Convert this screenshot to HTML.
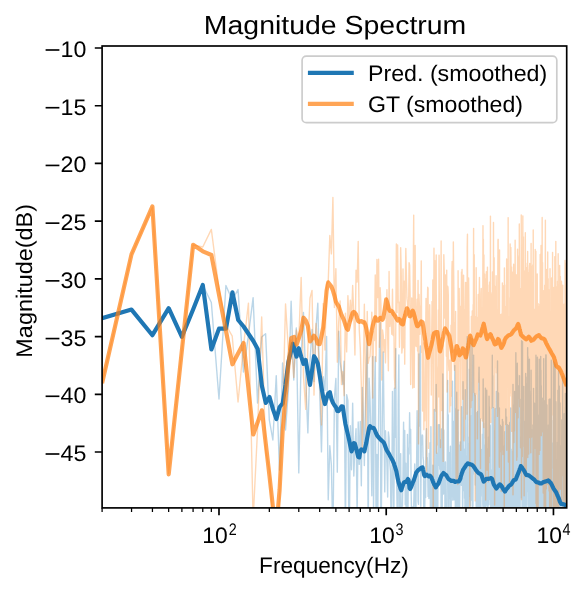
<!DOCTYPE html>
<html><head><meta charset="utf-8"><style>
html,body{margin:0;padding:0;background:#fff;width:587px;height:591px;overflow:hidden}
svg{display:block}
text{text-rendering:geometricPrecision}
text{font-family:"Liberation Sans",sans-serif;fill:#000}
</style></head><body>
<svg width="587" height="591" viewBox="0 0 587 591">
<rect width="587" height="591" fill="#fff"/>
<defs><clipPath id="ax"><rect x="102.1" y="46.0" width="464.6" height="461.9"/></clipPath></defs>
<g clip-path="url(#ax)" fill="none" stroke-linejoin="round">
<polyline points="102.10,318.20 131.55,309.66 152.44,335.13 168.65,308.29 181.89,336.78 193.08,309.54 202.78,285.04 211.34,302.50 218.99,399.00 225.91,285.50 232.23,300.00 238.04,289.60 243.43,372.00 248.44,335.00 253.12,297.70 257.53,403.00 261.68,337.00 265.60,333.70 269.33,420.00 272.87,440.00 276.25,375.60 279.48,470.00 282.57,363.00 285.54,430.00 288.38,390.00 291.13,301.20 293.77,380.00 296.32,328.00 298.78,472.92 301.16,356.18 303.46,312.47 305.70,378.93 307.87,432.91 309.97,361.85 312.02,329.45 314.01,381.57 315.95,328.76 317.83,303.16 319.67,390.83 321.46,451.90 323.21,376.63 324.92,390.38 326.59,336.44 328.23,499.68 329.82,445.69 331.38,464.97 332.91,542.48 334.41,398.25 335.88,378.53 337.32,472.16 338.73,331.26 340.11,362.04 341.47,371.54 342.80,384.46 344.11,361.30 345.39,529.15 346.66,394.65 347.90,400.61 349.12,560.00 350.32,425.67 351.50,469.71 352.66,403.09 353.81,475.99 354.93,445.53 356.04,428.58 357.13,516.81 358.21,422.04 359.27,464.36 360.31,421.42 361.34,485.72 362.36,387.38 363.36,416.81 364.35,465.55 365.33,411.66 366.29,370.58 367.24,335.13 368.17,541.74 369.10,378.15 370.01,400.07 370.91,433.94 371.81,495.77 372.69,356.41 373.56,513.25 374.42,397.69 375.26,356.80 376.10,537.71 376.93,454.56 377.76,520.83 378.57,423.40 379.37,351.02 380.16,322.56 380.95,552.43 381.72,477.28 382.49,401.56 383.25,351.96 384.01,419.98 384.75,491.89 385.49,430.66 386.22,450.55 386.94,463.57 387.66,497.00 388.37,431.85 389.07,437.82 389.76,462.47 390.45,471.39 391.13,534.86 391.81,488.68 392.48,391.47 393.14,472.92 393.80,545.50 394.45,388.23 395.10,437.18 395.73,348.62 396.37,469.17 397.00,501.14 397.62,558.56 398.24,403.42 398.85,354.93 399.46,529.16 400.06,521.45 400.66,453.61 401.25,534.32 401.84,502.88 402.43,506.11 403.00,475.25 403.58,422.18 404.15,483.15 404.71,430.44 405.27,504.78 405.83,463.23 406.38,560.00 406.93,556.16 407.47,434.51 408.01,510.20 408.55,447.95 409.08,453.99 409.61,412.81 410.14,442.75 410.66,429.53 411.17,492.44 411.69,520.24 412.20,520.39 412.70,506.87 413.20,537.06 413.70,507.28 414.20,483.98 414.69,463.91 415.18,493.75 415.67,560.00 416.15,478.82 416.63,461.34 417.10,410.75 417.58,438.99 418.05,501.61 418.51,504.27 418.98,353.95 419.44,425.93 419.90,363.50 420.35,345.92 420.81,506.20 421.26,445.81 421.70,441.22 422.15,434.99 422.59,435.63 423.03,457.18 423.46,460.78 423.90,542.18 424.33,482.40 424.76,510.51 425.18,468.68 425.61,497.51 426.03,440.19 426.45,428.59 426.86,458.01 427.28,457.55 427.69,470.40 428.10,496.41 428.50,483.30 428.91,498.55 429.31,453.24 429.71,474.79 430.11,442.70 430.50,538.44 430.90,426.68 431.29,513.96 431.68,513.48 432.07,489.51 432.45,507.22 432.83,465.22 433.22,509.33 433.60,533.01 433.97,523.48 434.35,409.50 434.72,483.45 435.09,540.70 435.46,487.09 435.83,560.00 436.20,384.46 436.56,557.19 436.92,458.24 437.28,453.57 437.64,550.98 438.00,465.78 438.35,424.65 438.71,454.31 439.06,465.33 439.41,424.71 439.76,469.36 440.10,458.44 440.45,482.92 440.79,439.82 441.13,518.98 441.47,429.04 441.81,497.30 442.15,523.56 442.48,451.36 442.82,373.97 443.15,415.42 443.48,493.98 443.81,429.97 444.14,491.77 444.47,477.08 444.79,466.73 445.11,560.00 445.44,461.91 445.76,521.05 446.08,506.25 446.39,542.65 446.71,545.13 447.03,519.19 447.34,428.51 447.65,380.53 447.96,478.37 448.27,414.64 448.58,490.06 448.89,560.00 449.19,469.66 449.50,452.81 449.80,498.54 450.10,461.53 450.40,446.14 450.70,519.27 451.00,547.81 451.30,490.05 451.59,489.79 451.89,496.54 452.18,423.49 452.48,381.09 452.77,500.13 453.06,440.76 453.34,427.00 453.63,440.35 453.92,421.27 454.20,499.90 454.49,439.43 454.77,365.49 455.05,436.08 455.33,510.88 455.61,446.98 455.89,408.99 456.17,460.35 456.45,507.46 456.72,392.18 457.00,538.74 457.27,451.78 457.54,481.39 457.82,535.56 458.09,409.86 458.36,459.97 458.62,533.72 458.89,444.93 459.16,499.39 459.42,560.00 459.69,510.88 459.95,463.67 460.21,441.97 460.48,468.30 460.74,474.45 461.00,449.13 461.26,485.20 461.51,406.74 461.77,465.30 462.03,456.13 462.28,441.10 462.54,520.35 462.79,503.50 463.04,381.76 463.29,450.01 463.55,482.04 463.80,448.91 464.04,490.49 464.29,451.81 464.54,498.26 464.79,451.22 465.03,539.64 465.28,389.61 465.52,489.75 465.77,538.72 466.01,475.68 466.25,482.12 466.49,455.84 466.73,517.16 466.97,440.99 467.21,336.60 467.45,522.26 467.68,443.38 467.92,477.12 468.15,451.80 468.39,546.72 468.62,516.36 468.86,436.83 469.09,465.28 469.32,369.27 469.55,496.33 469.78,453.86 470.01,337.10 470.24,499.57 470.47,506.09 470.69,466.12 470.92,466.70 471.15,416.06 471.37,457.45 471.60,500.00 471.82,453.00 472.04,338.37 472.27,392.08 472.49,560.00 472.71,472.31 472.93,506.30 473.15,430.15 473.37,474.35 473.59,355.09 473.80,413.17 474.02,415.81 474.24,456.72 474.45,469.63 474.67,448.41 474.88,393.57 475.10,437.76 475.31,485.10 475.52,395.57 475.74,458.35 475.95,473.30 476.16,506.53 476.37,496.40 476.58,499.90 476.79,560.00 477.00,412.39 477.20,438.66 477.41,481.52 477.62,411.52 477.82,446.84 478.03,450.88 478.23,560.00 478.44,483.50 478.64,442.23 478.84,380.24 479.05,367.13 479.25,391.26 479.45,527.38 479.65,560.00 479.85,441.23 480.05,472.76 480.25,419.00 480.45,480.56 480.65,462.26 480.85,544.40 481.04,449.49 481.24,496.23 481.44,455.88 481.63,449.97 481.83,482.29 482.02,458.99 482.21,478.30 482.41,434.25 482.60,449.50 482.79,504.12 482.98,506.39 483.18,379.00 483.37,484.72 483.56,423.17 483.75,457.80 483.94,506.55 484.13,515.08 484.31,473.57 484.50,465.69 484.69,445.04 484.88,539.00 485.06,507.96 485.25,484.88 485.43,388.11 485.62,560.00 485.80,455.16 485.99,505.43 486.17,455.60 486.35,503.22 486.54,459.46 486.72,390.20 486.90,460.06 487.08,455.49 487.26,458.98 487.44,515.14 487.62,449.16 487.80,490.12 487.98,517.96 488.16,482.22 488.34,490.90 488.52,436.88 488.69,482.31 488.87,504.74 489.05,396.22 489.22,423.17 489.40,406.90 489.57,445.07 489.75,485.17 489.92,499.42 490.10,492.93 490.27,425.30 490.44,473.50 490.62,548.38 490.79,481.69 490.96,545.23 491.13,470.23 491.30,535.35 491.47,538.09 491.65,472.85 491.82,483.27 491.98,556.35 492.15,436.53 492.32,355.24 492.49,548.85 492.66,375.79 492.83,512.94 492.99,504.37 493.16,490.18 493.33,549.01 493.49,407.66 493.66,454.57 493.82,518.06 493.99,496.52 494.15,554.10 494.32,500.50 494.48,430.77 494.64,560.00 494.81,505.66 494.97,477.40 495.13,425.73 495.29,408.71 495.46,508.05 495.62,521.47 495.78,461.64 495.94,504.76 496.10,502.65 496.26,426.35 496.42,391.46 496.58,473.48 496.74,497.54 496.89,455.54 497.05,560.00 497.21,489.03 497.37,537.00 497.52,360.90 497.68,446.15 497.84,479.40 497.99,496.38 498.15,560.00 498.30,445.96 498.46,392.90 498.61,520.44 498.77,447.19 498.92,444.78 499.08,557.80 499.23,432.16 499.38,407.83 499.53,472.68 499.69,488.63 499.84,440.16 499.99,556.93 500.14,480.55 500.29,425.23 500.44,543.60 500.60,429.09 500.75,505.83 500.90,560.00 501.04,491.70 501.19,531.84 501.34,468.68 501.49,541.37 501.64,426.78 501.79,521.66 501.94,467.12 502.08,515.26 502.23,502.88 502.38,419.34 502.52,475.84 502.67,506.64 502.82,546.33 502.96,421.74 503.11,446.54 503.25,504.05 503.40,475.07 503.54,536.79 503.69,536.25 503.83,527.68 503.97,469.28 504.12,472.77 504.26,524.60 504.40,447.96 504.55,445.60 504.69,481.26 504.83,431.65 504.97,505.20 505.11,497.11 505.25,464.45 505.40,493.18 505.54,445.64 505.68,549.16 505.82,408.90 505.96,527.12 506.10,498.51 506.23,554.37 506.37,455.98 506.51,416.97 506.65,428.53 506.79,442.11 506.93,560.00 507.06,526.05 507.20,511.16 507.34,532.82 507.48,424.73 507.61,478.74 507.75,490.38 507.89,460.98 508.02,532.90 508.16,530.68 508.29,529.21 508.43,459.57 508.56,468.35 508.70,454.47 508.83,425.38 508.97,550.06 509.10,513.05 509.23,478.43 509.37,549.00 509.50,511.07 509.63,427.75 509.77,422.42 509.90,423.70 510.03,483.13 510.16,495.18 510.29,422.87 510.42,502.16 510.56,465.22 510.69,408.03 510.82,501.28 510.95,512.28 511.08,484.30 511.21,449.12 511.34,455.63 511.47,474.38 511.60,451.17 511.73,557.04 511.86,522.76 511.98,473.57 512.11,525.77 512.24,544.75 512.37,538.47 512.50,525.00 512.62,490.76 512.75,529.64 512.88,468.77 513.00,384.33 513.13,488.95 513.26,408.47 513.38,465.30 513.51,533.56 513.64,493.60 513.76,527.00 513.89,437.25 514.01,534.72 514.14,405.06 514.26,447.93 514.39,560.00 514.51,435.84 514.63,391.39 514.76,517.43 514.88,423.97 515.01,560.00 515.13,466.10 515.25,557.27 515.37,452.63 515.50,560.00 515.62,560.00 515.74,457.07 515.86,352.63 515.98,506.79 516.11,431.05 516.23,472.26 516.35,493.26 516.47,442.49 516.59,382.90 516.71,534.40 516.83,444.51 516.95,456.82 517.07,542.19 517.19,382.91 517.31,363.29 517.43,519.47 517.55,374.86 517.67,471.61 517.79,482.08 517.91,387.45 518.02,460.79 518.14,454.95 518.26,385.70 518.38,398.63 518.50,421.12 518.61,537.03 518.73,544.65 518.85,406.75 518.96,514.22 519.08,462.56 519.20,520.41 519.31,479.00 519.43,529.25 519.55,375.82 519.66,516.64 519.78,474.93 519.89,477.68 520.01,399.08 520.12,533.94 520.24,469.62 520.35,477.44 520.47,436.89 520.58,439.93 520.69,488.29 520.81,452.78 520.92,484.05 521.04,439.87 521.15,471.76 521.26,497.43 521.38,468.57 521.49,446.44 521.60,340.59 521.71,490.38 521.83,450.14 521.94,383.54 522.05,560.00 522.16,548.72 522.27,523.26 522.39,473.79 522.50,341.68 522.61,446.20 522.72,399.19 522.83,479.30 522.94,560.00 523.05,560.00 523.16,410.66 523.27,458.91 523.38,529.67 523.49,405.36 523.60,541.04 523.71,404.65 523.82,386.48 523.93,505.69 524.04,521.67 524.15,421.91 524.25,521.34 524.36,421.16 524.47,526.22 524.58,424.55 524.69,465.88 524.80,491.41 524.90,512.91 525.01,457.97 525.12,559.20 525.23,484.69 525.33,490.36 525.44,433.05 525.55,530.22 525.65,373.57 525.76,486.97 525.87,525.27 525.97,392.85 526.08,377.00 526.18,481.76 526.29,514.36 526.39,472.41 526.50,505.33 526.60,487.98 526.71,383.75 526.81,451.19 526.92,465.54 527.02,454.08 527.13,476.85 527.23,425.71 527.34,423.66 527.44,491.59 527.54,468.57 527.65,347.78 527.75,450.54 527.86,483.57 527.96,356.81 528.06,474.68 528.16,526.01 528.27,436.53 528.37,517.12 528.47,498.65 528.57,456.98 528.68,481.78 528.78,511.29 528.88,501.60 528.98,503.67 529.08,409.08 529.19,509.79 529.29,503.04 529.39,359.09 529.49,502.42 529.59,391.00 529.69,401.14 529.79,484.24 529.89,542.84 529.99,451.27 530.09,438.71 530.19,421.79 530.29,473.61 530.39,408.35 530.49,397.74 530.59,526.78 530.69,395.71 530.79,468.25 530.89,504.56 530.99,493.26 531.09,370.30 531.19,421.98 531.29,560.00 531.38,474.18 531.48,485.57 531.58,487.33 531.68,503.03 531.78,546.68 531.87,429.82 531.97,523.05 532.07,496.86 532.17,507.70 532.26,513.60 532.36,437.21 532.46,458.07 532.56,511.45 532.65,524.06 532.75,502.22 532.85,424.84 532.94,473.50 533.04,467.42 533.13,496.14 533.23,493.00 533.33,468.70 533.42,560.00 533.52,388.37 533.61,517.80 533.71,507.71 533.80,404.25 533.90,468.69 533.99,479.13 534.09,508.53 534.18,553.71 534.28,470.98 534.37,412.70 534.47,523.26 534.56,403.10 534.65,533.82 534.75,515.70 534.84,452.64 534.94,481.87 535.03,442.03 535.12,516.18 535.22,529.60 535.31,560.00 535.40,537.60 535.50,531.74 535.59,547.97 535.68,464.31 535.78,512.80 535.87,560.00 535.96,355.23 536.05,520.78 536.14,540.24 536.24,410.74 536.33,415.07 536.42,535.52 536.51,550.45 536.60,528.59 536.70,417.26 536.79,496.85 536.88,519.85 536.97,483.85 537.06,413.07 537.15,546.76 537.24,500.35 537.33,546.54 537.42,357.32 537.51,377.77 537.60,427.85 537.69,488.94 537.79,444.76 537.88,560.00 537.97,466.91 538.05,544.59 538.14,544.09 538.23,515.49 538.32,499.15 538.41,449.87 538.50,442.60 538.59,467.91 538.68,526.70 538.77,444.11 538.86,488.74 538.95,415.07 539.04,525.56 539.12,560.00 539.21,505.29 539.30,359.14 539.39,456.26 539.48,492.33 539.57,432.39 539.65,454.38 539.74,456.82 539.83,507.19 539.92,479.10 540.00,471.86 540.09,513.13 540.18,535.09 540.27,475.39 540.35,427.50 540.44,446.01 540.53,454.84 540.61,454.22 540.70,356.33 540.79,468.28 540.87,423.12 540.96,370.29 541.04,480.16 541.13,467.93 541.22,422.92 541.30,385.75 541.39,465.07 541.47,462.16 541.56,477.85 541.65,538.74 541.73,418.55 541.82,494.69 541.90,560.00 541.99,489.65 542.07,560.00 542.16,529.34 542.24,481.71 542.33,525.24 542.41,420.83 542.49,550.47 542.58,467.31 542.66,450.26 542.75,398.11 542.83,429.11 542.92,468.84 543.00,477.63 543.08,485.03 543.17,416.48 543.25,512.59 543.33,452.06 543.42,486.53 543.50,468.17 543.58,494.25 543.67,358.76 543.75,512.42 543.83,467.31 543.92,465.96 544.00,446.76 544.08,455.83 544.16,457.29 544.25,425.10 544.33,551.36 544.41,481.14 544.49,538.78 544.58,468.24 544.66,536.38 544.74,526.07 544.82,484.52 544.90,400.96 544.99,448.20 545.07,464.37 545.15,400.47 545.23,525.23 545.31,560.00 545.39,501.11 545.47,494.36 545.55,410.07 545.64,357.85 545.72,542.84 545.80,355.07 545.88,390.94 545.96,432.81 546.04,459.94 546.12,354.98 546.20,476.49 546.28,503.15 546.36,473.07 546.44,544.45 546.52,453.81 546.60,486.26 546.68,461.93 546.76,460.20 546.84,530.01 546.92,404.97 547.00,527.94 547.08,429.63 547.16,554.60 547.23,459.40 547.31,518.85 547.39,478.33 547.47,511.01 547.55,560.00 547.63,532.35 547.71,476.72 547.79,444.64 547.87,548.64 547.94,560.00 548.02,521.03 548.10,490.50 548.18,509.96 548.26,518.08 548.33,431.45 548.41,424.87 548.49,437.88 548.57,524.25 548.65,476.44 548.72,490.04 548.80,547.08 548.88,430.13 548.95,476.07 549.03,503.78 549.11,399.48 549.19,437.28 549.26,432.04 549.34,412.26 549.42,440.16 549.49,540.27 549.57,499.88 549.65,423.93 549.72,517.58 549.80,479.85 549.88,459.11 549.95,398.95 550.03,407.27 550.10,430.45 550.18,491.16 550.26,429.67 550.33,452.07 550.41,490.26 550.48,404.35 550.56,454.25 550.64,517.94 550.71,409.88 550.79,494.97 550.86,448.86 550.94,553.74 551.01,484.35 551.09,527.28 551.16,528.65 551.24,560.00 551.31,360.18 551.39,491.08 551.46,470.42 551.54,420.36 551.61,490.19 551.68,454.94 551.76,547.58 551.83,473.52 551.91,504.21 551.98,456.23 552.06,474.81 552.13,549.48 552.20,560.00 552.28,532.63 552.35,443.25 552.42,461.40 552.50,462.80 552.57,560.00 552.65,560.00 552.72,515.38 552.79,502.08 552.87,514.72 552.94,466.46 553.01,495.05 553.08,542.04 553.16,528.05 553.23,479.25 553.30,483.45 553.38,491.27 553.45,361.20 553.52,500.24 553.59,481.27 553.67,534.37 553.74,505.10 553.81,458.37 553.88,456.04 553.96,496.20 554.03,466.26 554.10,486.01 554.17,560.00 554.24,560.00 554.32,362.67 554.39,441.81 554.46,492.51 554.53,560.00 554.60,549.02 554.67,412.00 554.74,560.00 554.82,505.47 554.89,440.49 554.96,482.47 555.03,447.30 555.10,497.04 555.17,364.13 555.24,538.69 555.31,554.24 555.38,475.62 555.45,409.07 555.52,494.28 555.60,431.28 555.67,516.45 555.74,546.80 555.81,411.42 555.88,401.82 555.95,404.01 556.02,512.87 556.09,546.11 556.16,546.91 556.23,503.43 556.30,459.58 556.37,463.95 556.44,559.70 556.51,482.35 556.58,492.73 556.65,488.69 556.72,495.12 556.78,503.49 556.85,460.07 556.92,487.12 556.99,481.57 557.06,526.62 557.13,472.02 557.20,500.59 557.27,560.00 557.34,467.36 557.41,507.62 557.47,442.09 557.54,503.17 557.61,500.24 557.68,483.74 557.75,496.65 557.82,516.87 557.89,560.00 557.95,390.16 558.02,560.00 558.09,512.55 558.16,459.22 558.23,475.12 558.29,464.45 558.36,452.93 558.43,424.55 558.50,480.44 558.57,370.76 558.63,544.66 558.70,484.88 558.77,514.80 558.84,523.44 558.90,481.83 558.97,414.38 559.04,531.47 559.11,531.64 559.17,457.13 559.24,467.68 559.31,386.22 559.37,440.02 559.44,486.23 559.51,514.82 559.57,487.32 559.64,507.97 559.71,560.00 559.77,499.67 559.84,508.37 559.91,511.14 559.97,520.30 560.04,403.00 560.11,460.42 560.17,446.60 560.24,528.80 560.30,548.02 560.37,513.93 560.44,486.85 560.50,516.95 560.57,509.76 560.63,445.65 560.70,483.93 560.77,546.70 560.83,521.09 560.90,531.76 560.96,491.02 561.03,555.42 561.09,509.85 561.16,461.68 561.22,500.07 561.29,543.98 561.35,530.32 561.42,494.74 561.48,474.10 561.55,453.74 561.61,508.82 561.68,560.00 561.74,420.00 561.81,485.12 561.87,478.94 561.94,484.81 562.00,550.41 562.07,517.31 562.13,487.78 562.20,443.10 562.26,499.29 562.33,560.00 562.39,514.03 562.45,482.60 562.52,428.34 562.58,462.03 562.65,376.17 562.71,421.00 562.77,425.49 562.84,448.92 562.90,560.00 562.96,454.58 563.03,468.92 563.09,527.86 563.16,469.76 563.22,479.54 563.28,525.19 563.35,509.47 563.41,515.98 563.47,490.57 563.54,523.52 563.60,472.52 563.66,560.00 563.73,517.08 563.79,560.00 563.85,526.46 563.91,474.38 563.98,503.01 564.04,509.42 564.10,500.39 564.17,413.82 564.23,555.53 564.29,453.27 564.35,560.00 564.42,526.18 564.48,495.21 564.54,544.02 564.60,492.91 564.67,462.74 564.73,559.96 564.79,508.46 564.85,522.33 564.91,560.00 564.98,513.67 565.04,541.92 565.10,427.85 565.16,545.61 565.22,407.14 565.28,529.91 565.35,393.46 565.41,474.24 565.47,479.23 565.53,458.97 565.59,453.44 565.65,424.57 565.72,405.61 565.78,521.67 565.84,560.00 565.90,560.00 565.96,523.68 566.02,461.97 566.08,484.06 566.14,499.30 566.20,522.16 566.27,535.59 566.33,519.18 566.39,483.68 566.45,560.00 566.51,464.16 566.57,560.00 566.63,513.63 566.69,535.67" stroke="#1f77b4" stroke-opacity="0.3" stroke-width="1.4"/>
<polyline points="102.10,383.20 131.55,254.29 152.44,207.08 168.65,473.54 181.89,350.29 193.08,244.95 202.78,247.00 211.34,229.40 218.99,289.00 225.91,325.00 232.23,336.20 238.04,402.00 243.43,347.00 248.44,303.10 253.12,520.00 257.53,430.00 261.68,317.00 265.60,450.00 269.33,470.00 272.87,520.00 276.25,540.00 279.48,500.00 282.57,420.00 285.54,304.00 288.38,350.00 291.13,340.00 293.77,377.50 296.32,330.00 298.78,339.67 301.16,277.43 303.46,375.67 305.70,409.41 307.87,347.92 309.97,298.29 312.02,290.37 314.01,395.13 315.95,323.46 317.83,342.74 319.67,370.87 321.46,424.89 323.21,303.53 324.92,349.98 326.59,284.69 328.23,281.51 329.82,235.49 331.38,253.86 332.91,197.50 334.41,307.51 335.88,268.69 337.32,362.16 338.73,321.99 340.11,301.03 341.47,384.51 342.80,371.52 344.11,395.67 345.39,313.23 346.66,351.92 347.90,295.65 349.12,321.46 350.32,300.31 351.50,320.93 352.66,285.42 353.81,316.23 354.93,355.10 356.04,270.18 357.13,282.08 358.21,241.36 359.27,330.07 360.31,348.46 361.34,385.14 362.36,450.94 363.36,378.29 364.35,304.24 365.33,362.62 366.29,439.47 367.24,311.57 368.17,363.41 369.10,358.00 370.01,356.54 370.91,339.70 371.81,312.22 372.69,398.05 373.56,331.55 374.42,340.57 375.26,275.03 376.10,361.54 376.93,259.54 377.76,297.47 378.57,259.08 379.37,347.34 380.16,287.67 380.95,304.56 381.72,380.10 382.49,329.87 383.25,335.37 384.01,352.08 384.75,339.73 385.49,362.89 386.22,319.08 386.94,289.68 387.66,336.34 388.37,370.76 389.07,271.43 389.76,326.35 390.45,310.46 391.13,321.24 391.81,334.27 392.48,289.20 393.14,335.52 393.80,312.64 394.45,377.96 395.10,388.24 395.73,334.47 396.37,243.89 397.00,312.67 397.62,244.89 398.24,302.63 398.85,301.96 399.46,347.29 400.06,320.18 400.66,247.74 401.25,272.96 401.84,353.01 402.43,346.43 403.00,268.87 403.58,347.78 404.15,281.16 404.71,364.14 405.27,288.56 405.83,248.47 406.38,275.19 406.93,297.95 407.47,302.74 408.01,314.93 408.55,313.21 409.08,262.73 409.61,265.20 410.14,297.15 410.66,384.46 411.17,341.81 411.69,297.95 412.20,307.48 412.70,388.01 413.20,281.97 413.70,215.12 414.20,387.38 414.69,313.85 415.18,245.42 415.67,345.25 416.15,346.53 416.63,315.81 417.10,299.30 417.58,351.06 418.05,280.35 418.51,443.90 418.98,294.49 419.44,307.42 419.90,334.34 420.35,305.87 420.81,321.45 421.26,260.86 421.70,352.52 422.15,325.49 422.59,411.01 423.03,396.37 423.46,342.86 423.90,429.67 424.33,387.26 424.76,420.70 425.18,370.27 425.61,335.75 426.03,298.35 426.45,471.32 426.86,362.48 427.28,309.92 427.69,287.22 428.10,288.43 428.50,448.39 428.91,387.62 429.31,325.06 429.71,304.81 430.11,335.93 430.50,335.20 430.90,334.89 431.29,395.03 431.68,335.86 432.07,301.46 432.45,362.96 432.83,280.00 433.22,522.15 433.60,357.81 433.97,248.24 434.35,290.14 434.72,260.52 435.09,327.03 435.46,411.15 435.83,367.37 436.20,255.05 436.56,453.34 436.92,395.73 437.28,445.12 437.64,369.98 438.00,365.32 438.35,310.01 438.71,396.91 439.06,255.28 439.41,314.07 439.76,381.73 440.10,415.89 440.45,447.50 440.79,341.32 441.13,240.92 441.47,355.24 441.81,410.45 442.15,345.26 442.48,373.78 442.82,397.70 443.15,461.38 443.48,338.94 443.81,254.74 444.14,266.90 444.47,278.36 444.79,317.94 445.11,303.16 445.44,274.90 445.76,332.61 446.08,314.52 446.39,356.20 446.71,270.09 447.03,391.93 447.34,294.95 447.65,286.08 447.96,287.52 448.27,294.59 448.58,363.51 448.89,370.55 449.19,360.90 449.50,360.25 449.80,411.93 450.10,368.60 450.40,383.11 450.70,405.64 451.00,325.18 451.30,396.48 451.59,334.79 451.89,271.31 452.18,261.55 452.48,352.29 452.77,300.51 453.06,343.40 453.34,242.03 453.63,269.81 453.92,296.72 454.20,365.32 454.49,370.33 454.77,323.31 455.05,353.19 455.33,366.29 455.61,311.53 455.89,431.05 456.17,480.44 456.45,413.20 456.72,421.47 457.00,349.87 457.27,404.19 457.54,360.07 457.82,484.48 458.09,270.70 458.36,329.58 458.62,410.23 458.89,336.37 459.16,288.47 459.42,310.42 459.69,361.00 459.95,321.54 460.21,306.48 460.48,435.19 460.74,450.38 461.00,392.61 461.26,299.06 461.51,272.05 461.77,343.73 462.03,269.44 462.28,296.18 462.54,354.06 462.79,399.36 463.04,393.07 463.29,345.79 463.55,275.18 463.80,306.26 464.04,440.85 464.29,436.31 464.54,309.62 464.79,343.50 465.03,419.13 465.28,318.84 465.52,282.35 465.77,313.58 466.01,350.59 466.25,282.99 466.49,379.99 466.73,392.81 466.97,414.18 467.21,247.88 467.45,234.22 467.68,350.01 467.92,314.21 468.15,320.48 468.39,293.16 468.62,278.05 468.86,304.39 469.09,345.91 469.32,373.92 469.55,407.16 469.78,515.53 470.01,341.34 470.24,391.98 470.47,334.13 470.69,343.42 470.92,407.60 471.15,372.16 471.37,316.39 471.60,330.36 471.82,400.60 472.04,392.53 472.27,310.89 472.49,329.55 472.71,326.47 472.93,354.78 473.15,304.61 473.37,340.15 473.59,228.33 473.80,377.07 474.02,392.45 474.24,254.61 474.45,347.78 474.67,395.99 474.88,318.55 475.10,500.92 475.31,316.71 475.52,339.17 475.74,325.20 475.95,394.35 476.16,267.64 476.37,320.98 476.58,338.46 476.79,317.27 477.00,393.77 477.20,344.35 477.41,438.80 477.62,410.78 477.82,318.32 478.03,327.92 478.23,294.39 478.44,380.22 478.64,342.16 478.84,382.16 479.05,321.05 479.25,292.82 479.45,277.51 479.65,304.45 479.85,390.23 480.05,324.14 480.25,407.54 480.45,468.52 480.65,325.26 480.85,329.52 481.04,293.41 481.24,288.45 481.44,418.29 481.63,395.14 481.83,331.67 482.02,326.71 482.21,308.01 482.41,420.99 482.60,346.68 482.79,293.76 482.98,225.60 483.18,415.34 483.37,239.31 483.56,346.36 483.75,427.48 483.94,254.93 484.13,402.90 484.31,410.88 484.50,290.46 484.69,274.19 484.88,327.23 485.06,382.99 485.25,438.27 485.43,327.59 485.62,500.04 485.80,438.54 485.99,278.81 486.17,303.37 486.35,271.80 486.54,316.40 486.72,420.97 486.90,314.69 487.08,470.28 487.26,303.39 487.44,267.13 487.62,412.60 487.80,285.01 487.98,338.19 488.16,352.32 488.34,481.68 488.52,351.64 488.69,292.67 488.87,462.87 489.05,374.49 489.22,390.23 489.40,456.32 489.57,282.13 489.75,337.71 489.92,335.89 490.10,284.75 490.27,392.54 490.44,216.08 490.62,371.48 490.79,422.53 490.96,303.89 491.13,317.84 491.30,408.55 491.47,404.67 491.65,293.99 491.82,323.30 491.98,316.98 492.15,292.57 492.32,383.92 492.49,271.84 492.66,338.66 492.83,301.54 492.99,407.52 493.16,300.33 493.33,326.08 493.49,222.52 493.66,352.72 493.82,259.34 493.99,307.76 494.15,257.64 494.32,329.81 494.48,316.87 494.64,504.98 494.81,436.26 494.97,286.45 495.13,319.79 495.29,300.70 495.46,361.06 495.62,299.60 495.78,367.61 495.94,345.43 496.10,275.70 496.26,282.94 496.42,372.69 496.58,338.04 496.74,327.82 496.89,350.45 497.05,347.25 497.21,409.12 497.37,309.19 497.52,416.41 497.68,410.25 497.84,270.64 497.99,240.38 498.15,239.32 498.30,320.41 498.46,379.22 498.61,300.20 498.77,256.92 498.92,334.78 499.08,371.07 499.23,465.22 499.38,467.20 499.53,249.90 499.69,451.92 499.84,392.99 499.99,366.04 500.14,331.27 500.29,441.15 500.44,314.62 500.60,314.63 500.75,342.41 500.90,392.92 501.04,374.68 501.19,491.48 501.34,314.20 501.49,387.13 501.64,450.07 501.79,350.22 501.94,320.26 502.08,327.44 502.23,312.71 502.38,282.96 502.52,385.36 502.67,335.26 502.82,331.37 502.96,454.51 503.11,285.66 503.25,369.31 503.40,330.63 503.54,327.50 503.69,405.21 503.83,298.66 503.97,290.01 504.12,333.07 504.26,560.00 504.40,267.89 504.55,352.90 504.69,390.24 504.83,385.27 504.97,422.94 505.11,368.85 505.25,306.90 505.40,424.62 505.54,328.77 505.68,385.81 505.82,360.21 505.96,368.59 506.10,323.24 506.23,284.98 506.37,341.14 506.51,290.97 506.65,258.98 506.79,450.25 506.93,296.80 507.06,362.55 507.20,353.72 507.34,286.16 507.48,357.12 507.61,387.15 507.75,269.97 507.89,281.34 508.02,315.48 508.16,217.59 508.29,413.12 508.43,461.93 508.56,353.69 508.70,424.19 508.83,316.78 508.97,382.03 509.10,382.66 509.23,335.97 509.37,400.93 509.50,483.73 509.63,391.87 509.77,297.66 509.90,322.82 510.03,284.87 510.16,244.03 510.29,287.49 510.42,339.44 510.56,392.69 510.69,309.50 510.82,247.38 510.95,257.14 511.08,283.40 511.21,395.99 511.34,302.21 511.47,295.24 511.60,266.97 511.73,431.39 511.86,387.07 511.98,325.50 512.11,326.07 512.24,379.90 512.37,305.37 512.50,355.18 512.62,272.13 512.75,369.88 512.88,321.14 513.00,494.78 513.13,320.57 513.26,383.14 513.38,292.80 513.51,344.49 513.64,264.22 513.76,372.16 513.89,442.55 514.01,317.39 514.14,298.70 514.26,388.17 514.39,431.10 514.51,288.60 514.63,272.34 514.76,289.58 514.88,324.21 515.01,328.91 515.13,240.09 515.25,284.99 515.37,399.32 515.50,412.36 515.62,294.01 515.74,288.03 515.86,375.48 515.98,386.70 516.11,274.77 516.23,351.59 516.35,281.45 516.47,413.12 516.59,403.76 516.71,460.20 516.83,328.46 516.95,357.36 517.07,457.29 517.19,317.17 517.31,366.81 517.43,342.59 517.55,249.19 517.67,272.32 517.79,298.00 517.91,350.52 518.02,417.76 518.14,375.98 518.26,354.35 518.38,257.10 518.50,398.40 518.61,368.93 518.73,327.38 518.85,305.85 518.96,268.69 519.08,255.76 519.20,340.02 519.31,224.02 519.43,292.61 519.55,391.32 519.66,406.82 519.78,363.31 519.89,350.66 520.01,288.35 520.12,395.97 520.24,376.99 520.35,399.43 520.47,318.40 520.58,447.81 520.69,303.80 520.81,396.51 520.92,351.71 521.04,311.35 521.15,318.74 521.26,214.89 521.38,406.84 521.49,499.63 521.60,438.69 521.71,290.29 521.83,419.86 521.94,279.66 522.05,352.84 522.16,295.23 522.27,456.52 522.39,279.19 522.50,272.93 522.61,409.59 522.72,264.18 522.83,215.87 522.94,336.32 523.05,410.27 523.16,383.55 523.27,359.16 523.38,281.41 523.49,236.83 523.60,369.48 523.71,354.48 523.82,446.39 523.93,378.12 524.04,311.13 524.15,495.74 524.25,299.40 524.36,288.23 524.47,271.32 524.58,382.37 524.69,461.37 524.80,359.40 524.90,419.37 525.01,477.01 525.12,397.78 525.23,447.93 525.33,232.68 525.44,296.99 525.55,289.82 525.65,425.85 525.76,263.12 525.87,367.78 525.97,291.65 526.08,419.02 526.18,304.11 526.29,471.07 526.39,351.95 526.50,357.46 526.60,446.64 526.71,336.71 526.81,383.35 526.92,369.60 527.02,297.95 527.13,267.52 527.23,353.96 527.34,268.13 527.44,283.51 527.54,297.50 527.65,251.52 527.75,457.62 527.86,265.53 527.96,317.51 528.06,369.11 528.16,351.37 528.27,282.51 528.37,272.48 528.47,298.83 528.57,429.97 528.68,453.97 528.78,335.38 528.88,303.05 528.98,392.34 529.08,289.54 529.19,304.30 529.29,311.14 529.39,397.78 529.49,269.58 529.59,284.51 529.69,263.37 529.79,316.60 529.89,437.43 529.99,316.46 530.09,289.92 530.19,347.88 530.29,427.77 530.39,306.83 530.49,302.35 530.59,436.84 530.69,395.05 530.79,452.71 530.89,320.13 530.99,328.34 531.09,243.41 531.19,411.07 531.29,265.90 531.38,355.93 531.48,324.02 531.58,437.14 531.68,337.61 531.78,381.18 531.87,347.94 531.97,329.19 532.07,312.81 532.17,293.86 532.26,341.06 532.36,410.58 532.46,283.57 532.56,335.14 532.65,387.80 532.75,264.85 532.85,323.95 532.94,300.25 533.04,474.79 533.13,389.43 533.23,229.95 533.33,312.60 533.42,313.70 533.52,396.53 533.61,351.09 533.71,320.14 533.80,346.16 533.90,349.19 533.99,480.33 534.09,403.85 534.18,376.23 534.28,309.39 534.37,311.94 534.47,341.32 534.56,398.14 534.65,398.14 534.75,326.64 534.84,448.40 534.94,358.02 535.03,365.42 535.12,360.76 535.22,249.57 535.31,351.98 535.40,293.00 535.50,252.91 535.59,311.81 535.68,340.09 535.78,440.38 535.87,251.27 535.96,428.81 536.05,503.41 536.14,281.56 536.24,457.49 536.33,436.26 536.42,397.71 536.51,435.76 536.60,515.35 536.70,329.79 536.79,313.91 536.88,299.05 536.97,343.98 537.06,373.67 537.15,384.21 537.24,274.01 537.33,294.46 537.42,376.90 537.51,323.55 537.60,436.25 537.69,312.98 537.79,427.76 537.88,353.49 537.97,360.55 538.05,556.54 538.14,303.68 538.23,344.23 538.32,404.64 538.41,399.57 538.50,350.39 538.59,355.44 538.68,315.94 538.77,332.30 538.86,307.31 538.95,327.15 539.04,453.81 539.12,454.42 539.21,314.92 539.30,319.02 539.39,342.52 539.48,446.63 539.57,398.49 539.65,406.82 539.74,304.23 539.83,406.53 539.92,450.38 540.00,405.67 540.09,323.72 540.18,254.55 540.27,381.53 540.35,279.53 540.44,377.62 540.53,376.28 540.61,409.77 540.70,297.37 540.79,380.28 540.87,288.78 540.96,373.62 541.04,245.39 541.13,327.98 541.22,336.83 541.30,435.65 541.39,269.40 541.47,323.00 541.56,335.08 541.65,337.97 541.73,379.10 541.82,380.89 541.90,320.18 541.99,403.21 542.07,350.46 542.16,217.53 542.24,349.07 542.33,361.49 542.41,289.84 542.49,416.98 542.58,262.67 542.66,338.40 542.75,432.08 542.83,350.28 542.92,394.39 543.00,301.23 543.08,376.01 543.17,299.72 543.25,493.09 543.33,374.17 543.42,308.23 543.50,311.70 543.58,335.88 543.67,298.46 543.75,296.95 543.83,339.56 543.92,327.91 544.00,290.52 544.08,330.43 544.16,545.01 544.25,466.11 544.33,392.24 544.41,302.51 544.49,336.27 544.58,304.59 544.66,285.23 544.74,310.44 544.82,416.14 544.90,294.76 544.99,449.41 545.07,444.57 545.15,377.47 545.23,525.00 545.31,251.39 545.39,220.16 545.47,357.91 545.55,375.51 545.64,513.42 545.72,315.75 545.80,402.82 545.88,444.13 545.96,459.16 546.04,357.81 546.12,366.06 546.20,359.45 546.28,398.83 546.36,488.70 546.44,269.44 546.52,303.52 546.60,397.84 546.68,459.65 546.76,432.23 546.84,310.98 546.92,321.15 547.00,333.52 547.08,283.87 547.16,396.03 547.23,271.16 547.31,340.22 547.39,412.35 547.47,321.64 547.55,332.19 547.63,408.42 547.71,251.99 547.79,484.65 547.87,336.04 547.94,327.88 548.02,409.82 548.10,348.06 548.18,278.70 548.26,442.57 548.33,439.84 548.41,379.74 548.49,322.83 548.57,289.44 548.65,318.95 548.72,443.13 548.80,290.07 548.88,312.08 548.95,295.04 549.03,487.23 549.11,490.94 549.19,409.50 549.26,392.11 549.34,357.19 549.42,445.30 549.49,443.65 549.57,331.39 549.65,529.63 549.72,453.87 549.80,356.51 549.88,314.73 549.95,340.78 550.03,268.73 550.10,339.50 550.18,317.56 550.26,311.93 550.33,356.24 550.41,466.54 550.48,383.27 550.56,377.53 550.64,431.67 550.71,321.70 550.79,405.01 550.86,483.09 550.94,363.90 551.01,444.94 551.09,330.86 551.16,560.00 551.24,501.85 551.31,363.76 551.39,346.96 551.46,358.21 551.54,278.01 551.61,385.11 551.68,406.76 551.76,315.95 551.83,391.68 551.91,339.98 551.98,292.60 552.06,378.59 552.13,374.28 552.20,414.75 552.28,340.34 552.35,327.77 552.42,305.06 552.50,325.13 552.57,252.33 552.65,352.75 552.72,353.98 552.79,386.81 552.87,291.31 552.94,356.81 553.01,386.55 553.08,468.49 553.16,373.67 553.23,313.80 553.30,560.00 553.38,452.90 553.45,437.17 553.52,429.26 553.59,359.42 553.67,393.94 553.74,353.85 553.81,345.46 553.88,287.56 553.96,383.29 554.03,342.39 554.10,381.12 554.17,352.51 554.24,390.64 554.32,455.87 554.39,339.93 554.46,302.49 554.53,438.85 554.60,365.64 554.67,365.88 554.74,534.75 554.82,256.62 554.89,282.79 554.96,298.37 555.03,308.56 555.10,433.35 555.17,560.00 555.24,369.81 555.31,359.09 555.38,387.12 555.45,401.06 555.52,310.61 555.60,322.18 555.67,367.86 555.74,407.12 555.81,241.36 555.88,320.34 555.95,359.97 556.02,472.69 556.09,492.70 556.16,560.00 556.23,388.49 556.30,350.87 556.37,382.76 556.44,368.82 556.51,354.11 556.58,321.99 556.65,512.89 556.72,470.34 556.78,319.74 556.85,353.09 556.92,341.16 556.99,451.39 557.06,286.59 557.13,362.44 557.20,389.22 557.27,442.09 557.34,358.88 557.41,360.29 557.47,380.01 557.54,281.14 557.61,304.69 557.68,371.36 557.75,417.61 557.82,406.37 557.89,351.26 557.95,560.00 558.02,353.24 558.09,388.59 558.16,253.82 558.23,346.11 558.29,384.09 558.36,367.29 558.43,421.45 558.50,426.73 558.57,375.31 558.63,533.17 558.70,369.84 558.77,506.75 558.84,428.60 558.90,429.74 558.97,332.28 559.04,284.89 559.11,292.56 559.17,409.79 559.24,389.21 559.31,368.69 559.37,362.22 559.44,309.42 559.51,333.85 559.57,371.27 559.64,265.49 559.71,321.61 559.77,270.19 559.84,375.11 559.91,339.34 559.97,352.64 560.04,361.14 560.11,455.51 560.17,357.05 560.24,489.26 560.30,349.89 560.37,276.57 560.44,308.67 560.50,354.70 560.57,393.94 560.63,329.34 560.70,455.57 560.77,469.30 560.83,477.27 560.90,350.43 560.96,478.95 561.03,339.75 561.09,316.53 561.16,334.90 561.22,380.39 561.29,349.53 561.35,470.13 561.42,362.00 561.48,281.22 561.55,293.18 561.61,502.14 561.68,378.87 561.74,400.69 561.81,323.93 561.87,359.15 561.94,381.81 562.00,426.24 562.07,366.10 562.13,386.01 562.20,371.47 562.26,386.90 562.33,475.50 562.39,352.74 562.45,350.59 562.52,363.46 562.58,361.41 562.65,308.96 562.71,316.31 562.77,285.20 562.84,337.99 562.90,329.82 562.96,373.34 563.03,461.14 563.09,471.87 563.16,348.33 563.22,369.94 563.28,347.18 563.35,560.00 563.41,395.77 563.47,372.59 563.54,410.23 563.60,402.21 563.66,528.31 563.73,390.98 563.79,312.19 563.85,476.39 563.91,351.94 563.98,442.79 564.04,372.62 564.10,304.32 564.17,379.63 564.23,362.31 564.29,347.39 564.35,386.46 564.42,313.89 564.48,548.13 564.54,410.40 564.60,540.76 564.67,509.14 564.73,385.49 564.79,483.94 564.85,418.26 564.91,309.60 564.98,354.12 565.04,260.38 565.10,393.45 565.16,380.37 565.22,560.00 565.28,386.96 565.35,423.03 565.41,358.36 565.47,382.64 565.53,438.83 565.59,546.88 565.65,343.17 565.72,444.47 565.78,529.17 565.84,364.71 565.90,552.84 565.96,439.49 566.02,559.87 566.08,413.84 566.14,529.91 566.20,263.09 566.27,326.93 566.33,363.26 566.39,370.31 566.45,353.44 566.51,342.92 566.57,374.85 566.63,482.91 566.69,381.29" stroke="#ff7f0e" stroke-opacity="0.3" stroke-width="1.4"/>
<polyline points="102.1,318.2 131.5,309.6 152.4,335.2 168.7,308.2 181.9,336.8 193.1,309.5 202.8,285.0 211.4,349.5 219.0,328.6 226.0,328.6 232.4,292.3 238.2,320.0 243.6,326.5 248.6,334.0 253.3,341.0 257.7,349.0 261.9,386.0 265.8,403.0 269.5,397.0 273.0,409.4 276.4,419.0 279.6,407.0 282.7,403.4 285.5,385.0 288.4,362.0 292.9,343.6 296.5,356.6 298.6,348.7 298.8,348.3 301.2,356.6 303.5,363.8 305.7,360.0 307.9,372.8 310.0,384.9 312.0,370.7 314.0,356.2 315.9,359.2 317.8,363.6 319.7,375.3 321.5,387.4 323.2,397.4 324.9,404.1 326.6,398.3 328.2,393.8 329.8,392.1 331.4,398.9 332.9,402.7 334.4,405.2 335.9,407.1 337.3,411.0 338.7,411.1 340.1,408.6 341.5,406.3 342.8,406.6 344.1,415.7 345.4,423.9 346.7,429.4 347.9,434.6 349.1,439.9 350.3,445.8 351.5,451.4 352.7,448.5 353.8,443.0 354.9,443.8 356.0,447.7 357.1,452.2 358.2,456.8 359.3,457.4 360.3,450.7 361.3,449.4 362.4,449.8 363.4,450.1 364.4,451.3 365.3,447.1 366.3,443.0 367.2,437.8 368.2,432.7 369.1,428.0 370.0,426.2 370.9,427.2 371.8,427.8 372.7,427.9 373.6,428.1 374.4,429.2 375.3,431.3 376.1,433.4 376.9,435.0 377.8,436.4 378.6,437.4 379.4,438.3 380.2,439.1 380.9,439.9 381.7,440.6 382.5,441.3 383.3,442.0 384.0,443.0 384.8,445.0 385.5,447.0 386.2,449.0 386.9,450.5 387.7,451.8 388.4,452.9 389.1,454.1 389.8,455.4 390.5,456.7 391.1,457.7 391.8,459.0 392.5,460.3 393.1,461.7 393.8,463.0 394.4,465.1 395.1,467.2 395.7,469.2 396.4,471.4 397.0,474.7 397.6,477.8 398.2,480.7 398.9,483.4 399.5,485.3 400.1,487.2 400.7,489.1 401.3,490.2 401.8,488.4 402.4,486.6 403.0,484.8 403.6,483.1 404.1,482.3 404.7,482.0 405.3,481.9 405.8,482.0 406.4,481.9 406.9,480.9 407.5,479.9 408.0,479.0 408.6,480.2 409.1,484.0 409.6,488.2 410.1,489.0 410.7,487.9 411.2,486.8 411.7,485.5 412.2,484.2 412.7,482.8 413.2,481.6 413.7,480.6 414.2,479.1 414.7,477.5 415.2,476.0 415.7,474.4 416.1,472.9 416.6,472.1 417.1,471.5 417.6,470.9 418.0,470.4 418.5,469.8 419.0,469.7 419.4,469.3 419.9,468.9 420.4,468.5 420.8,468.1 421.3,467.7 421.7,467.6 422.1,467.5 422.6,467.4 423.0,469.6 423.5,471.9 423.9,473.9 424.3,475.4 424.8,476.1 425.2,475.6 425.6,475.1 426.0,474.6 426.4,474.5 426.9,474.9 427.3,475.3 427.7,475.6 428.1,476.0 428.5,476.4 428.9,476.5 429.3,476.1 429.7,475.7 430.1,475.9 430.5,476.4 430.9,476.9 431.3,477.3 431.7,478.3 432.1,479.3 432.5,480.2 432.8,481.2 433.2,482.2 433.6,483.1 434.0,483.9 434.3,484.6 434.7,485.3 435.1,486.0 435.5,486.7 435.8,487.4 436.2,486.7 436.6,486.0 436.9,485.5 437.3,485.1 437.6,484.6 438.0,484.1 438.4,483.6 438.7,483.1 439.1,482.1 439.4,481.1 439.8,480.1 440.1,479.1 440.4,478.2 440.8,477.2 441.1,476.3 441.5,475.7 441.8,475.2 442.1,474.8 442.5,474.3 442.8,473.9 443.2,473.5 443.5,473.0 443.8,473.4 444.1,473.6 444.5,473.9 444.8,474.1 445.1,474.4 445.4,474.6 445.8,474.8 446.1,475.1 446.4,475.4 446.7,476.0 447.0,476.5 447.3,477.1 447.7,477.7 448.0,478.2 448.3,478.7 448.6,479.0 448.9,479.2 449.2,479.4 449.5,479.6 449.8,479.9 450.1,480.1 450.4,480.3 450.7,480.5 451.0,480.7 451.3,480.9 451.6,480.9 451.9,480.9 452.2,480.9 452.5,480.9 452.8,480.9 453.1,480.9 453.3,480.8 453.6,480.8 453.9,481.0 454.2,481.3 454.5,481.5 454.8,481.8 455.1,482.0 455.3,481.9 455.6,481.8 455.9,481.6 456.2,481.5 456.4,481.5 456.7,481.5 457.0,481.5 457.3,481.5 457.5,481.5 457.8,481.5 458.1,481.5 458.4,481.5 458.6,481.5 458.9,481.3 459.2,480.9 459.4,480.4 459.7,480.0 460.0,479.6 460.2,479.1 460.5,478.1 460.7,477.0 461.0,476.0 461.3,475.0 461.5,474.2 461.8,473.5 462.0,472.8 462.3,472.1 462.5,471.4 462.8,470.7 463.0,470.0 463.3,469.5 463.5,469.2 463.8,468.9 464.0,468.5 464.3,468.1 464.5,467.7 464.8,467.3 465.0,466.9 465.3,466.5 465.5,466.1 465.8,465.7 466.0,465.4 466.2,465.0 466.5,464.7 466.7,464.4 467.0,464.1 467.2,463.9 467.4,463.6 467.7,463.3 467.9,463.3 468.2,463.5 468.4,463.7 468.6,464.0 468.9,464.1 469.1,464.1 469.3,464.2 469.6,464.2 469.8,464.2 470.0,464.2 470.2,464.3 470.5,464.3 470.7,464.3 470.9,464.3 471.1,464.4 471.4,464.5 471.6,464.6 471.8,464.8 472.0,465.0 472.3,465.1 472.5,465.3 472.7,465.4 472.9,465.6 473.1,465.8 473.4,466.1 473.6,466.4 473.8,466.7 474.0,467.1 474.2,467.4 474.5,467.7 474.7,468.0 474.9,468.4 475.1,468.7 475.3,469.0 475.5,469.3 475.7,469.6 475.9,470.0 476.2,470.3 476.4,470.6 476.6,470.8 476.8,471.1 477.0,471.3 477.2,471.6 477.4,471.9 477.6,472.1 477.8,472.3 478.0,472.5 478.2,472.7 478.4,472.9 478.6,473.1 478.8,473.2 479.0,473.3 479.2,473.4 479.5,473.5 479.7,473.6 479.9,473.7 480.1,473.8 480.3,473.9 480.4,474.0 480.6,474.1 480.8,474.2 481.0,474.3 481.2,474.6 481.4,475.1 481.6,475.7 481.8,476.3 482.0,476.8 482.2,477.4 482.4,478.0 482.6,478.5 482.8,479.1 483.0,479.7 483.2,480.2 483.4,480.8 483.6,481.4 483.7,481.6 483.9,481.5 484.1,481.3 484.3,481.1 484.5,480.8 484.7,480.6 484.9,480.4 485.1,480.2 485.2,480.0 485.4,479.8 485.6,479.6 485.8,479.4 486.0,479.1 486.2,478.9 486.4,478.8 486.5,478.8 486.7,478.8 486.9,478.8 487.1,478.9 487.3,478.9 487.4,478.9 487.6,478.9 487.8,478.9 488.0,478.9 488.2,478.9 488.3,478.8 488.5,478.8 488.7,478.8 488.9,478.7 489.0,478.7 489.2,478.6 489.4,478.6 489.6,478.5 489.7,478.5 489.9,478.5 490.1,478.4 490.3,478.4 490.4,478.3 490.6,478.3 490.8,478.2 491.0,478.2 491.1,478.1 491.3,478.1 491.5,478.3 491.6,478.5 491.8,478.6 492.0,478.8 492.2,479.1 492.3,479.6 492.5,480.2 492.7,480.8 492.8,481.3 493.0,481.9 493.2,482.5 493.3,483.0 493.5,483.6 493.7,484.1 493.8,484.6 494.0,484.8 494.2,485.1 494.3,485.3 494.5,485.6 494.6,485.8 494.8,486.1 495.0,486.3 495.1,486.6 495.3,486.8 495.5,487.0 495.6,487.3 495.8,487.5 495.9,487.8 496.1,488.0 496.3,488.2 496.4,488.5 496.6,488.3 496.7,488.1 496.9,487.8 497.1,487.6 497.2,487.4 497.4,487.2 497.5,487.0 497.7,486.8 497.8,486.6 498.0,486.4 498.1,486.2 498.3,486.0 498.5,485.8 498.6,485.6 498.8,485.4 498.9,485.2 499.1,485.0 499.2,484.9 499.4,484.7 499.5,484.5 499.7,484.4 499.8,484.3 500.0,484.4 500.1,484.6 500.3,484.7 500.4,484.8 500.6,485.0 500.7,485.1 500.9,485.2 501.0,485.4 501.2,485.5 501.3,485.7 501.5,485.9 501.6,486.2 501.8,486.5 501.9,486.7 502.1,487.0 502.2,487.3 502.4,487.5 502.5,487.8 502.7,488.1 502.8,488.3 503.0,488.6 503.1,488.8 503.3,489.1 503.4,489.4 503.5,489.6 503.7,489.9 503.8,490.0 504.0,490.1 504.1,490.1 504.3,490.4 504.4,490.6 504.5,490.8 504.7,491.1 504.8,491.3 505.0,491.6 505.1,491.4 505.3,491.2 505.4,490.9 505.5,490.7 505.7,490.4 505.8,490.2 506.0,489.9 506.1,489.7 506.2,489.4 506.4,489.2 506.5,489.1 506.7,488.9 506.8,488.8 506.9,488.6 507.1,488.5 507.2,488.3 507.3,488.2 507.5,488.0 507.6,487.9 507.7,487.7 507.9,487.6 508.0,487.4 508.2,487.2 508.3,486.9 508.4,486.7 508.6,486.4 508.7,486.2 508.8,486.0 509.0,485.9 509.1,485.8 509.2,485.7 509.4,485.6 509.5,485.6 509.6,485.5 509.8,485.4 509.9,485.3 510.0,485.2 510.2,485.1 510.3,485.0 510.4,484.9 510.6,484.8 510.7,484.7 510.8,484.7 510.9,484.6 511.1,484.5 511.2,484.4 511.3,484.2 511.5,484.0 511.6,483.8 511.7,483.6 511.9,483.3 512.0,483.1 512.1,482.9 512.2,482.7 512.4,482.5 512.5,482.3 512.6,482.0 512.8,481.8 512.9,481.6 513.0,481.4 513.1,481.2 513.3,481.0 513.4,480.8 513.5,480.6 513.6,480.3 513.8,480.1 513.9,480.1 514.0,480.0 514.1,480.0 514.3,480.0 514.4,479.9 514.5,479.9 514.6,479.9 514.8,479.8 514.9,479.8 515.0,479.7 515.1,479.7 515.3,479.7 515.4,479.6 515.5,479.6 515.6,479.5 515.7,479.3 515.9,479.0 516.0,478.7 516.1,478.5 516.2,478.2 516.3,477.9 516.5,477.6 516.6,477.3 516.7,477.0 516.8,476.7 517.0,476.4 517.1,476.1 517.2,475.8 517.3,475.5 517.4,475.2 517.5,475.0 517.7,474.7 517.8,474.4 517.9,474.1 518.0,473.8 518.1,473.5 518.3,473.2 518.4,472.9 518.5,472.6 518.6,472.3 518.7,472.0 518.8,471.7 519.0,471.4 519.1,471.1 519.2,470.7 519.3,470.4 519.4,470.1 519.5,469.7 519.7,469.4 519.8,469.1 519.9,468.7 520.0,468.4 520.1,468.1 520.2,467.7 520.4,467.4 520.5,467.1 520.6,466.8 520.7,466.4 520.8,466.1 520.9,466.3 521.0,466.4 521.1,466.5 521.3,466.6 521.4,466.7 521.5,466.9 521.6,467.1 521.7,467.2 521.8,467.4 521.9,467.5 522.1,467.7 522.2,467.8 522.3,468.0 522.4,468.2 522.5,468.3 522.6,468.5 522.7,468.6 522.8,468.8 522.9,468.9 523.1,469.1 523.2,469.3 523.3,469.4 523.4,469.6 523.5,469.7 523.6,469.9 523.7,470.0 523.8,470.2 523.9,470.4 524.0,470.6 524.1,470.8 524.3,471.0 524.4,471.3 524.5,471.5 524.6,471.7 524.7,471.9 524.8,472.1 524.9,472.3 525.0,472.5 525.1,472.7 525.2,472.9 525.3,473.1 525.4,473.3 525.5,473.5 525.7,473.7 525.8,474.0 525.9,474.2 526.0,474.4 526.1,474.6 526.2,474.8 526.3,474.9 526.4,475.0 526.5,475.0 526.6,475.0 526.7,475.0 526.8,475.0 526.9,475.1 527.0,475.1 527.1,475.1 527.2,475.1 527.3,475.1 527.4,475.1 527.5,475.2 527.6,475.2 527.8,475.2 527.9,475.2 528.0,475.2 528.1,475.2 528.2,475.3 528.3,475.3 528.4,475.3 528.5,475.3 528.6,475.3 528.7,475.4 528.8,475.4 528.9,475.4 529.0,475.5 529.1,475.6 529.2,475.7 529.3,475.7 529.4,475.8 529.5,475.9 529.6,476.0 529.7,476.1 529.8,476.1 529.9,476.2 530.0,476.3 530.1,476.4 530.2,476.4 530.3,476.5 530.4,476.6 530.5,476.7 530.6,476.7 530.7,476.8 530.8,476.9 530.9,476.9 531.0,477.0 531.1,477.1 531.2,477.2 531.3,477.2 531.4,477.3 531.5,477.4 531.6,477.5 531.7,477.6 531.8,477.7 531.9,477.7 532.0,477.8 532.1,477.9 532.2,478.0 532.3,478.1 532.4,478.1 532.5,478.2 532.6,478.3 532.7,478.4 532.7,478.5 532.8,478.5 532.9,478.6 533.0,478.7 533.1,478.8 533.2,478.9 533.3,479.0 533.4,479.0 533.5,479.1 533.6,479.1 533.7,479.1 533.8,479.1 533.9,479.2 534.0,479.4 534.1,479.5 534.2,479.6 534.3,479.7 534.4,479.8 534.5,479.9 534.6,480.0 534.7,480.1 534.7,480.2 534.8,480.4 534.9,480.5 535.0,480.6 535.1,480.7 535.2,480.8 535.3,480.9 535.4,481.0 535.5,481.1 535.6,481.2 535.7,481.3 535.8,481.5 535.9,481.6 536.0,481.7 536.1,481.8 536.1,481.9 536.2,482.0 536.3,482.1 536.4,482.1 536.5,482.1 536.6,482.1 536.7,482.2 536.8,482.2 536.9,482.2 537.0,482.2 537.1,482.2 537.2,482.3 537.2,482.3 537.3,482.3 537.4,482.3 537.5,482.4 537.6,482.4 537.7,482.4 537.8,482.4 537.9,482.4 538.0,482.5 538.1,482.5 538.1,482.5 538.2,482.5 538.3,482.6 538.4,482.6 538.5,482.6 538.6,482.6 538.7,482.6 538.8,482.7 538.9,482.7 538.9,482.8 539.0,482.8 539.1,482.9 539.2,483.0 539.3,483.0 539.4,483.1 539.5,483.1 539.6,483.2 539.7,483.2 539.7,483.3 539.8,483.4 539.9,483.4 540.0,483.4 540.1,483.4 540.2,483.4 540.3,483.4 540.4,483.4 540.4,483.4 540.5,483.5 540.6,483.5 540.7,483.5 540.8,483.5 540.9,483.5 541.0,483.5 541.0,483.5 541.1,483.5 541.2,483.5 541.3,483.5 541.4,483.4 541.5,483.4 541.6,483.3 541.6,483.3 541.7,483.2 541.8,483.2 541.9,483.1 542.0,483.1 542.1,483.0 542.2,483.0 542.2,482.9 542.3,482.9 542.4,482.8 542.5,482.8 542.6,482.7 542.7,482.6 542.7,482.6 542.8,482.5 542.9,482.5 543.0,482.4 543.1,482.4 543.2,482.3 543.3,482.3 543.3,482.2 543.4,482.2 543.5,482.1 543.6,482.1 543.7,482.0 543.8,482.0 543.8,481.9 543.9,481.9 544.0,481.9 544.1,481.9 544.2,481.9 544.2,481.8 544.3,481.8 544.4,481.8 544.5,481.8 544.6,481.7 544.7,481.7 544.7,481.7 544.8,481.7 544.9,481.7 545.0,481.6 545.1,481.6 545.1,481.6 545.2,481.6 545.3,481.5 545.4,481.5 545.5,481.5 545.6,481.5 545.6,481.5 545.7,481.4 545.8,481.4 545.9,481.4 546.0,481.4 546.0,481.4 546.1,481.3 546.2,481.3 546.3,481.3 546.4,481.3 546.4,481.2 546.5,481.2 546.6,481.2 546.7,481.1 546.8,481.1 546.8,481.1 546.9,481.1 547.0,481.0 547.1,481.0 547.2,481.0 547.2,480.9 547.3,480.9 547.4,480.9 547.5,480.8 547.6,480.8 547.6,480.8 547.7,480.7 547.8,480.7 547.9,480.7 547.9,480.7 548.0,480.6 548.1,480.6 548.2,480.6 548.3,480.5 548.3,480.6 548.4,480.6 548.5,480.7 548.6,480.7 548.6,480.8 548.7,480.9 548.8,480.9 548.9,481.0 549.0,481.1 549.0,481.2 549.1,481.3 549.2,481.4 549.3,481.4 549.3,481.5 549.4,481.6 549.5,481.7 549.6,481.8 549.6,481.9 549.7,481.9 549.8,482.0 549.9,482.1 550.0,482.2 550.0,482.3 550.1,482.3 550.2,482.4 550.3,482.5 550.3,482.6 550.4,482.7 550.5,482.7 550.6,482.8 550.6,482.9 550.7,483.0 550.8,483.1 550.9,483.1 550.9,483.2 551.0,483.3 551.1,483.5 551.2,483.6 551.2,483.7 551.3,483.9 551.4,484.0 551.5,484.2 551.5,484.3 551.6,484.5 551.7,484.6 551.8,484.8 551.8,484.9 551.9,485.1 552.0,485.2 552.1,485.4 552.1,485.5 552.2,485.7 552.3,485.9 552.4,486.0 552.4,486.2 552.5,486.3 552.6,486.5 552.6,486.6 552.7,486.8 552.8,486.9 552.9,487.1 552.9,487.2 553.0,487.4 553.1,487.5 553.2,487.7 553.2,487.8 553.3,488.0 553.4,488.1 553.4,488.3 553.5,488.4 553.6,488.6 553.7,488.7 553.7,488.9 553.8,489.0 553.9,489.1 554.0,489.2 554.0,489.3 554.1,489.4 554.2,489.5 554.2,489.6 554.3,489.7 554.4,489.8 554.5,489.9 554.5,490.0 554.6,490.1 554.7,490.2 554.7,490.3 554.8,490.4 554.9,490.5 555.0,490.6 555.0,490.7 555.1,490.8 555.2,490.9 555.2,491.0 555.3,491.1 555.4,491.2 555.5,491.3 555.5,491.4 555.6,491.5 555.7,491.6 555.7,491.7 555.8,491.9 555.9,492.0 555.9,492.1 556.0,492.2 556.1,492.3 556.2,492.5 556.2,492.6 556.3,492.7 556.4,492.9 556.4,493.0 556.5,493.2 556.6,493.3 556.6,493.5 556.7,493.6 556.8,493.8 556.9,494.0 556.9,494.1 557.0,494.3 557.1,494.4 557.1,494.6 557.2,494.7 557.3,494.9 557.3,495.0 557.4,495.2 557.5,495.4 557.5,495.5 557.6,495.7 557.7,495.8 557.7,496.0 557.8,496.1 557.9,496.3 558.0,496.4 558.0,496.6 558.1,496.7 558.2,496.9 558.2,497.0 558.3,497.2 558.4,497.4 558.4,497.5 558.5,497.7 558.6,497.8 558.6,498.0 558.7,498.1 558.8,498.3 558.8,498.5 558.9,498.7 559.0,498.9 559.0,499.1 559.1,499.2 559.2,499.4 559.2,499.6 559.3,499.8 559.4,500.0 559.4,500.2 559.5,500.4 559.6,500.6 559.6,500.8 559.7,501.0 559.8,501.2 559.8,501.4 559.9,501.6 560.0,501.7 560.0,501.9 560.1,502.0 560.2,502.1 560.2,502.2 560.3,502.4 560.4,502.5 560.4,502.6 560.5,502.7 560.6,502.9 560.6,503.0 560.7,503.1 560.8,503.2 560.8,503.3 560.9,503.4 561.0,503.5 561.0,503.6 561.1,503.7 561.2,503.8 561.2,503.9 561.3,504.0 561.4,504.0 561.4,504.0 561.5,504.0 561.5,504.0 561.6,504.0 561.7,504.0 561.7,504.0 561.8,504.0 561.9,504.0 561.9,504.0 562.0,504.0 562.1,504.0 562.1,504.0 562.2,504.0 562.3,504.1 562.3,504.1 562.4,504.1 562.5,504.1 562.5,504.1 562.6,504.1 562.6,504.1 562.7,504.1 562.8,504.2 562.8,504.2 562.9,504.2 563.0,504.2 563.0,504.2 563.1,504.3 563.2,504.3 563.2,504.3 563.3,504.3 563.3,504.3 563.4,504.3 563.5,504.3 563.5,504.3 563.6,504.4 563.7,504.4 563.7,504.4 563.8,504.4 563.9,504.4 563.9,504.4 564.0,504.4 564.0,504.5 564.1,504.5 564.2,504.5 564.2,504.5 564.3,504.5 564.4,504.6 564.4,504.6 564.5,504.6 564.5,504.6 564.6,504.7 564.7,504.7 564.7,504.7 564.8,504.7 564.9,504.8 564.9,504.8 565.0,504.8 565.0,504.9 565.1,504.9 565.2,505.0 565.2,505.0 565.3,505.0 565.3,505.1 565.4,505.1 565.5,505.2 565.5,505.2 565.6,505.3 565.7,505.3 565.7,505.4 565.8,505.4 565.8,505.5 565.9,505.5 566.0,505.6 566.0,505.6 566.1,505.7 566.1,505.8 566.2,505.8 566.3,505.9 566.3,506.0 566.4,506.0 566.4,506.1 566.5,506.2 566.6,506.2 566.6,506.3 566.7,506.4" stroke="#1f77b4" stroke-width="4.17" stroke-linecap="butt"/>
<polyline points="102.1,383.2 131.5,254.4 152.4,206.4 168.7,474.4 193.1,244.8 202.8,251.3 211.4,255.0 232.4,364.3 243.6,343.0 253.3,434.5 261.9,410.3 265.8,444.0 269.5,476.0 273.0,508.0 276.4,528.0 279.6,490.0 282.7,430.0 285.5,398.0 288.4,365.0 291.3,338.0 294.1,337.0 296.7,344.7 298.8,338.4 301.2,330.5 303.5,317.7 305.7,320.3 307.9,326.0 310.0,341.5 312.0,338.8 314.0,335.7 315.9,338.4 317.8,343.8 319.7,344.1 321.5,336.0 323.2,327.5 324.9,310.1 326.6,290.6 328.2,282.4 329.8,284.5 331.4,286.6 332.9,290.5 334.4,295.6 335.9,301.7 337.3,304.2 338.7,306.2 340.1,310.7 341.5,314.9 342.8,317.7 344.1,320.6 345.4,325.0 346.7,328.6 347.9,329.8 349.1,324.5 350.3,320.3 351.5,316.3 352.7,312.8 353.8,311.9 354.9,312.8 356.0,314.2 357.1,317.8 358.2,321.1 359.3,321.9 360.3,321.4 361.3,321.1 362.4,321.8 363.4,322.6 364.4,322.3 365.3,324.5 366.3,328.5 367.2,333.9 368.2,339.4 369.1,344.2 370.0,339.4 370.9,334.7 371.8,330.2 372.7,325.9 373.6,322.5 374.4,319.7 375.3,317.3 376.1,318.8 376.9,320.5 377.8,320.7 378.6,320.2 379.4,319.1 380.2,317.8 380.9,318.0 381.7,318.7 382.5,319.7 383.3,317.9 384.0,313.8 384.8,309.0 385.5,304.2 386.2,299.4 386.9,301.4 387.7,304.3 388.4,307.0 389.1,309.7 389.8,310.8 390.5,310.8 391.1,310.7 391.8,311.2 392.5,311.8 393.1,313.2 393.8,314.5 394.4,315.2 395.1,316.0 395.7,317.2 396.4,318.4 397.0,319.5 397.6,320.5 398.2,319.7 398.9,319.0 399.5,319.4 400.1,319.9 400.7,321.8 401.3,323.6 401.8,323.9 402.4,324.2 403.0,324.4 403.6,321.4 404.1,318.9 404.7,316.7 405.3,314.6 405.8,312.4 406.4,310.3 406.9,308.3 407.5,308.9 408.0,310.7 408.6,312.4 409.1,314.3 409.6,316.2 410.1,316.3 410.7,315.4 411.2,314.5 411.7,312.9 412.2,311.1 412.7,310.6 413.2,311.9 413.7,313.1 414.2,315.0 414.7,316.9 415.2,318.9 415.7,320.8 416.1,322.7 416.6,324.3 417.1,325.9 417.6,326.2 418.0,325.8 418.5,325.3 419.0,324.8 419.4,324.1 419.9,323.5 420.4,322.8 420.8,322.2 421.3,321.5 421.7,321.7 422.1,322.0 422.6,322.2 423.0,324.8 423.5,328.1 423.9,331.3 424.3,334.2 424.8,337.1 425.2,339.9 425.6,342.7 426.0,345.5 426.4,348.1 426.9,350.6 427.3,353.0 427.7,355.4 428.1,357.8 428.5,356.0 428.9,354.3 429.3,352.8 429.7,351.3 430.1,349.9 430.5,348.4 430.9,346.9 431.3,345.5 431.7,343.7 432.1,341.9 432.5,340.1 432.8,338.3 433.2,336.6 433.6,334.8 434.0,333.3 434.3,333.0 434.7,332.8 435.1,332.6 435.5,332.4 435.8,332.2 436.2,332.0 436.6,332.0 436.9,332.0 437.3,332.1 437.6,334.0 438.0,336.9 438.4,339.7 438.7,342.6 439.1,345.4 439.4,348.2 439.8,350.9 440.1,351.3 440.4,349.8 440.8,348.4 441.1,347.0 441.5,345.4 441.8,343.7 442.1,341.9 442.5,340.2 442.8,338.4 443.2,336.7 443.5,335.0 443.8,333.3 444.1,331.9 444.5,330.5 444.8,329.2 445.1,328.5 445.4,329.1 445.8,329.6 446.1,330.2 446.4,330.8 446.7,331.3 447.0,331.9 447.3,332.4 447.7,333.0 448.0,333.5 448.3,334.1 448.6,334.6 448.9,335.1 449.2,335.4 449.5,337.0 449.8,338.7 450.1,340.4 450.4,342.1 450.7,343.8 451.0,345.4 451.3,347.1 451.6,349.0 451.9,350.8 452.2,352.7 452.5,354.5 452.8,356.4 453.1,358.2 453.3,360.0 453.6,359.4 453.9,358.2 454.2,357.0 454.5,355.9 454.8,354.7 455.1,353.6 455.3,352.4 455.6,351.3 455.9,350.2 456.2,349.1 456.4,347.6 456.7,346.0 457.0,346.2 457.3,347.0 457.5,347.9 457.8,348.8 458.1,349.6 458.4,350.5 458.6,351.3 458.9,352.5 459.2,354.0 459.4,355.3 459.7,355.0 460.0,354.8 460.2,354.5 460.5,354.3 460.7,354.0 461.0,353.8 461.3,353.5 461.5,352.7 461.8,351.9 462.0,351.0 462.3,350.1 462.5,349.3 462.8,348.4 463.0,348.7 463.3,349.0 463.5,349.3 463.8,349.7 464.0,350.7 464.3,351.6 464.5,352.6 464.8,353.5 465.0,354.5 465.3,355.4 465.5,356.4 465.8,357.3 466.0,357.4 466.2,356.4 466.5,355.1 466.7,353.9 467.0,352.6 467.2,351.3 467.4,350.0 467.7,348.8 467.9,347.5 468.2,346.2 468.4,345.0 468.6,343.7 468.9,342.4 469.1,341.1 469.3,339.8 469.6,338.5 469.8,337.2 470.0,336.0 470.2,335.8 470.5,336.5 470.7,337.1 470.9,337.8 471.1,338.4 471.4,339.1 471.6,339.7 471.8,340.4 472.0,341.1 472.3,341.7 472.5,342.4 472.7,343.0 472.9,343.7 473.1,344.3 473.4,345.0 473.6,345.1 473.8,344.5 474.0,344.0 474.2,343.5 474.5,343.0 474.7,342.5 474.9,342.1 475.1,341.6 475.3,341.1 475.5,340.6 475.7,340.1 475.9,339.7 476.2,339.2 476.4,338.7 476.6,338.0 476.8,337.4 477.0,336.8 477.2,336.2 477.4,335.6 477.6,335.0 477.8,334.4 478.0,334.5 478.2,334.5 478.4,334.6 478.6,334.6 478.8,334.7 479.0,334.8 479.2,334.9 479.5,335.0 479.7,335.2 479.9,335.3 480.1,335.4 480.3,335.5 480.4,335.1 480.6,334.5 480.8,333.9 481.0,333.4 481.2,332.8 481.4,332.1 481.6,331.3 481.8,330.6 482.0,329.9 482.2,329.1 482.4,328.4 482.6,327.7 482.8,327.0 483.0,326.2 483.2,325.5 483.4,324.8 483.6,324.1 483.7,323.7 483.9,324.6 484.1,325.6 484.3,326.5 484.5,327.5 484.7,328.4 484.9,329.3 485.1,330.3 485.2,331.2 485.4,332.1 485.6,333.0 485.8,334.0 486.0,334.9 486.2,335.8 486.4,336.6 486.5,337.2 486.7,337.8 486.9,338.5 487.1,339.1 487.3,338.8 487.4,338.4 487.6,338.0 487.8,337.7 488.0,337.3 488.2,336.9 488.3,336.5 488.5,336.2 488.7,335.8 488.9,335.5 489.0,335.4 489.2,335.2 489.4,335.1 489.6,334.9 489.7,334.8 489.9,334.6 490.1,334.5 490.3,334.3 490.4,334.2 490.6,334.4 490.8,334.9 491.0,335.3 491.1,335.8 491.3,336.2 491.5,336.6 491.6,336.9 491.8,337.3 492.0,337.7 492.2,338.0 492.3,338.4 492.5,338.8 492.7,339.1 492.8,339.5 493.0,339.8 493.2,340.2 493.3,340.6 493.5,340.9 493.7,341.3 493.8,341.7 494.0,342.2 494.2,342.7 494.3,343.2 494.5,343.7 494.6,344.2 494.8,344.3 495.0,344.3 495.1,344.2 495.3,344.2 495.5,344.1 495.6,344.0 495.8,344.0 495.9,343.9 496.1,343.9 496.3,343.8 496.4,343.4 496.6,343.0 496.7,342.6 496.9,342.2 497.1,341.7 497.2,341.3 497.4,340.9 497.5,340.5 497.7,340.1 497.8,339.6 498.0,339.2 498.1,339.0 498.3,339.2 498.5,339.3 498.6,339.5 498.8,339.7 498.9,340.2 499.1,340.6 499.2,341.1 499.4,341.6 499.5,342.1 499.7,342.6 499.8,343.0 500.0,343.5 500.1,344.0 500.3,344.5 500.4,344.9 500.6,345.4 500.7,345.9 500.9,346.3 501.0,346.8 501.2,347.3 501.3,347.8 501.5,347.8 501.6,347.5 501.8,347.2 501.9,346.9 502.1,346.7 502.2,346.4 502.4,346.1 502.5,345.8 502.7,345.5 502.8,345.3 503.0,345.0 503.1,344.7 503.3,344.4 503.4,344.2 503.5,343.9 503.7,343.6 503.8,343.2 504.0,342.7 504.1,342.2 504.3,341.7 504.4,341.1 504.5,340.6 504.7,340.1 504.8,339.6 505.0,339.4 505.1,339.2 505.3,338.9 505.4,338.7 505.5,338.5 505.7,338.3 505.8,338.1 506.0,337.9 506.1,337.6 506.2,337.4 506.4,337.3 506.5,337.1 506.7,337.0 506.8,336.9 506.9,336.8 507.1,336.6 507.2,336.5 507.3,336.4 507.5,336.3 507.6,336.1 507.7,336.0 507.9,335.9 508.0,335.8 508.2,335.6 508.3,335.5 508.4,335.4 508.6,335.3 508.7,335.2 508.8,335.1 509.0,335.1 509.1,335.1 509.2,335.1 509.4,335.0 509.5,335.0 509.6,334.9 509.8,334.9 509.9,334.8 510.0,334.8 510.2,334.7 510.3,334.6 510.4,334.6 510.6,334.5 510.7,334.5 510.8,334.4 510.9,334.4 511.1,334.3 511.2,334.3 511.3,334.1 511.5,333.9 511.6,333.8 511.7,333.6 511.9,333.4 512.0,333.2 512.1,333.0 512.2,332.8 512.4,332.6 512.5,332.4 512.6,332.2 512.8,332.0 512.9,331.8 513.0,331.6 513.1,331.4 513.3,331.2 513.4,331.1 513.5,330.8 513.6,330.6 513.8,330.4 513.9,330.3 514.0,330.2 514.1,330.1 514.3,330.0 514.4,329.9 514.5,329.7 514.6,329.6 514.8,329.5 514.9,329.4 515.0,329.3 515.1,329.2 515.3,329.1 515.4,329.0 515.5,328.9 515.6,328.8 515.7,328.7 515.9,328.6 516.0,328.5 516.1,328.4 516.2,328.3 516.3,328.1 516.5,327.8 516.6,327.5 516.7,327.2 516.8,326.9 517.0,326.6 517.1,326.3 517.2,326.1 517.3,325.8 517.4,325.5 517.5,325.2 517.7,324.9 517.8,324.7 517.9,324.4 518.0,324.1 518.1,324.0 518.3,324.3 518.4,324.6 518.5,325.0 518.6,325.3 518.7,325.6 518.8,326.0 519.0,326.5 519.1,326.9 519.2,327.4 519.3,327.9 519.4,328.4 519.5,328.8 519.7,329.3 519.8,329.8 519.9,330.3 520.0,330.7 520.1,331.2 520.2,331.7 520.4,332.1 520.5,332.6 520.6,333.1 520.7,333.5 520.8,334.0 520.9,334.5 521.0,334.8 521.1,335.0 521.3,335.1 521.4,335.2 521.5,335.3 521.6,335.4 521.7,335.5 521.8,335.6 521.9,335.7 522.1,335.8 522.2,335.9 522.3,336.0 522.4,336.1 522.5,336.2 522.6,336.3 522.7,336.5 522.8,336.6 522.9,336.7 523.1,336.8 523.2,336.9 523.3,337.0 523.4,337.1 523.5,337.2 523.6,337.3 523.7,337.4 523.8,337.5 523.9,337.5 524.0,337.6 524.1,337.7 524.3,337.8 524.4,337.9 524.5,338.0 524.6,338.1 524.7,338.2 524.8,338.3 524.9,338.4 525.0,338.5 525.1,338.6 525.2,338.7 525.3,338.8 525.4,338.8 525.5,338.9 525.7,339.0 525.8,339.1 525.9,339.2 526.0,339.3 526.1,339.4 526.2,339.4 526.3,339.4 526.4,339.3 526.5,339.2 526.6,339.1 526.7,339.0 526.8,338.8 526.9,338.7 527.0,338.6 527.1,338.5 527.2,338.4 527.3,338.3 527.4,338.2 527.5,338.0 527.6,337.9 527.8,337.8 527.9,337.7 528.0,337.6 528.1,337.5 528.2,337.3 528.3,337.2 528.4,337.1 528.5,337.0 528.6,336.9 528.7,336.8 528.8,336.7 528.9,336.8 529.0,336.9 529.1,337.1 529.2,337.2 529.3,337.3 529.4,337.5 529.5,337.6 529.6,337.7 529.7,337.9 529.8,338.0 529.9,338.1 530.0,338.3 530.1,338.4 530.2,338.5 530.3,338.7 530.4,338.9 530.5,339.1 530.6,339.3 530.7,339.5 530.8,339.7 530.9,339.9 531.0,340.1 531.1,340.3 531.2,340.5 531.3,340.7 531.4,340.6 531.5,340.6 531.6,340.5 531.7,340.5 531.8,340.4 531.9,340.4 532.0,340.3 532.1,340.3 532.2,340.2 532.3,340.2 532.4,340.2 532.5,340.1 532.6,340.1 532.7,340.0 532.7,340.0 532.8,339.9 532.9,339.9 533.0,339.8 533.1,339.8 533.2,339.7 533.3,339.7 533.4,339.7 533.5,339.6 533.6,339.6 533.7,339.5 533.8,339.3 533.9,339.2 534.0,339.1 534.1,339.0 534.2,338.9 534.3,338.8 534.4,338.7 534.5,338.6 534.6,338.5 534.7,338.4 534.7,338.3 534.8,338.1 534.9,338.0 535.0,337.9 535.1,337.8 535.2,337.7 535.3,337.6 535.4,337.5 535.5,337.4 535.6,337.3 535.7,337.2 535.8,337.1 535.9,337.0 536.0,336.9 536.1,336.8 536.1,336.7 536.2,336.6 536.3,336.5 536.4,336.4 536.5,336.4 536.6,336.3 536.7,336.3 536.8,336.2 536.9,336.2 537.0,336.1 537.1,336.1 537.2,336.0 537.2,336.0 537.3,335.9 537.4,335.9 537.5,335.9 537.6,335.8 537.7,335.8 537.8,335.7 537.9,335.7 538.0,335.6 538.1,335.6 538.1,335.5 538.2,335.5 538.3,335.4 538.4,335.4 538.5,335.3 538.6,335.3 538.7,335.2 538.8,335.2 538.9,335.2 538.9,335.3 539.0,335.4 539.1,335.5 539.2,335.6 539.3,335.7 539.4,335.9 539.5,336.0 539.6,336.1 539.7,336.2 539.7,336.3 539.8,336.4 539.9,336.5 540.0,336.6 540.1,336.7 540.2,336.8 540.3,336.9 540.4,337.0 540.4,337.1 540.5,337.2 540.6,337.3 540.7,337.4 540.8,337.5 540.9,337.6 541.0,337.7 541.0,337.8 541.1,337.9 541.2,338.0 541.3,338.0 541.4,338.1 541.5,338.1 541.6,338.1 541.6,338.1 541.7,338.2 541.8,338.2 541.9,338.2 542.0,338.3 542.1,338.3 542.2,338.3 542.2,338.3 542.3,338.4 542.4,338.4 542.5,338.4 542.6,338.5 542.7,338.5 542.7,338.5 542.8,338.5 542.9,338.6 543.0,338.6 543.1,338.6 543.2,338.6 543.3,338.7 543.3,338.7 543.4,338.7 543.5,338.8 543.6,338.8 543.7,338.8 543.8,338.8 543.8,338.9 543.9,339.0 544.0,339.1 544.1,339.1 544.2,339.2 544.2,339.3 544.3,339.4 544.4,339.5 544.5,339.5 544.6,339.6 544.7,339.7 544.7,339.8 544.8,340.0 544.9,340.2 545.0,340.4 545.1,340.6 545.1,340.8 545.2,340.9 545.3,341.1 545.4,341.3 545.5,341.5 545.6,341.7 545.6,341.9 545.7,342.0 545.8,342.2 545.9,342.4 546.0,342.6 546.0,342.8 546.1,343.0 546.2,343.1 546.3,343.3 546.4,343.5 546.4,343.6 546.5,343.8 546.6,343.9 546.7,344.1 546.8,344.2 546.8,344.4 546.9,344.5 547.0,344.7 547.1,344.8 547.2,345.0 547.2,345.1 547.3,345.3 547.4,345.4 547.5,345.6 547.6,345.7 547.6,345.9 547.7,346.0 547.8,346.2 547.9,346.3 547.9,346.5 548.0,346.6 548.1,346.8 548.2,346.9 548.3,347.1 548.3,347.2 548.4,347.4 548.5,347.5 548.6,347.6 548.6,347.8 548.7,347.9 548.8,348.1 548.9,348.2 549.0,348.4 549.0,348.5 549.1,348.6 549.2,348.8 549.3,348.9 549.3,349.0 549.4,349.2 549.5,349.3 549.6,349.5 549.6,349.6 549.7,349.7 549.8,349.9 549.9,350.0 550.0,350.1 550.0,350.3 550.1,350.4 550.2,350.5 550.3,350.7 550.3,350.8 550.4,350.9 550.5,351.1 550.6,351.2 550.6,351.3 550.7,351.5 550.8,351.6 550.9,351.8 550.9,351.9 551.0,352.1 551.1,352.2 551.2,352.3 551.2,352.5 551.3,352.6 551.4,352.8 551.5,352.9 551.5,353.0 551.6,353.1 551.7,353.3 551.8,353.4 551.8,353.5 551.9,353.6 552.0,353.8 552.1,353.9 552.1,354.0 552.2,354.1 552.3,354.3 552.4,354.4 552.4,354.5 552.5,354.6 552.6,354.8 552.6,354.9 552.7,355.0 552.8,355.1 552.9,355.3 552.9,355.4 553.0,355.5 553.1,355.6 553.2,355.8 553.2,355.9 553.3,356.0 553.4,356.1 553.4,356.3 553.5,356.4 553.6,356.5 553.7,356.6 553.7,356.8 553.8,356.9 553.9,357.1 554.0,357.4 554.0,357.6 554.1,357.8 554.2,358.0 554.2,358.3 554.3,358.5 554.4,358.7 554.5,358.9 554.5,359.1 554.6,359.4 554.7,359.6 554.7,359.8 554.8,360.0 554.9,360.3 555.0,360.6 555.0,360.9 555.1,361.2 555.2,361.5 555.2,361.8 555.3,362.1 555.4,362.3 555.5,362.6 555.5,362.9 555.6,363.2 555.7,363.5 555.7,363.8 555.8,364.1 555.9,364.4 555.9,364.6 556.0,364.9 556.1,365.2 556.2,365.5 556.2,365.8 556.3,366.0 556.4,366.1 556.4,366.1 556.5,366.2 556.6,366.3 556.6,366.3 556.7,366.4 556.8,366.4 556.9,366.5 556.9,366.6 557.0,366.6 557.1,366.7 557.1,366.8 557.2,366.8 557.3,366.9 557.3,366.9 557.4,367.0 557.5,367.1 557.5,367.1 557.6,367.2 557.7,367.3 557.7,367.3 557.8,367.4 557.9,367.4 558.0,367.5 558.0,367.6 558.1,367.6 558.2,367.7 558.2,367.7 558.3,367.7 558.4,367.6 558.4,367.6 558.5,367.6 558.6,367.5 558.6,367.5 558.7,367.5 558.8,367.4 558.8,367.5 558.9,367.6 559.0,367.8 559.0,367.9 559.1,368.0 559.2,368.1 559.2,368.3 559.3,368.4 559.4,368.5 559.4,368.6 559.5,368.7 559.6,368.9 559.6,369.0 559.7,369.1 559.8,369.2 559.8,369.3 559.9,369.5 560.0,369.6 560.0,369.7 560.1,369.8 560.2,369.9 560.2,370.1 560.3,370.2 560.4,370.3 560.4,370.4 560.5,370.5 560.6,370.7 560.6,370.8 560.7,370.9 560.8,371.0 560.8,371.2 560.9,371.3 561.0,371.5 561.0,371.6 561.1,371.8 561.2,371.9 561.2,372.0 561.3,372.2 561.4,372.4 561.4,372.5 561.5,372.7 561.5,372.8 561.6,373.0 561.7,373.1 561.7,373.3 561.8,373.5 561.9,373.6 561.9,373.8 562.0,373.9 562.1,374.1 562.1,374.2 562.2,374.4 562.3,374.5 562.3,374.7 562.4,374.8 562.5,375.0 562.5,375.1 562.6,375.3 562.6,375.5 562.7,375.7 562.8,375.9 562.8,376.1 562.9,376.3 563.0,376.5 563.0,376.7 563.1,376.8 563.2,377.0 563.2,377.2 563.3,377.4 563.3,377.6 563.4,377.8 563.5,377.9 563.5,378.1 563.6,378.3 563.7,378.5 563.7,378.6 563.8,378.8 563.9,379.0 563.9,379.1 564.0,379.2 564.0,379.4 564.1,379.5 564.2,379.7 564.2,379.8 564.3,380.0 564.4,380.1 564.4,380.3 564.5,380.4 564.5,380.6 564.6,380.7 564.7,380.9 564.7,381.0 564.8,381.2 564.9,381.3 564.9,381.5 565.0,381.6 565.0,381.8 565.1,381.9 565.2,382.1 565.2,382.2 565.3,382.4 565.3,382.5 565.4,382.7 565.5,382.8 565.5,383.0 565.6,383.1 565.7,383.3 565.7,383.4 565.8,383.6 565.8,383.8 565.9,383.9 566.0,384.1 566.0,384.2 566.1,384.4 566.1,384.5 566.2,384.7 566.3,384.9 566.3,385.0 566.4,385.2 566.4,385.3 566.5,385.5 566.6,385.7 566.6,385.8 566.7,386.0" stroke="#ff7f0e" stroke-opacity="0.7" stroke-width="4.17" stroke-linecap="butt"/>
</g>
<rect x="102.1" y="46.0" width="464.6" height="461.9" fill="none" stroke="#000" stroke-width="1.67" stroke-linejoin="miter"/>
<path d="M94.8 48.00H102.1 M94.8 105.72H102.1 M94.8 163.43H102.1 M94.8 221.14H102.1 M94.8 278.86H102.1 M94.8 336.57H102.1 M94.8 394.29H102.1 M94.8 452.00H102.1 M218.99 507.9V515.2 M386.22 507.9V515.2 M553.45 507.9V515.2" stroke="#000" stroke-width="1.67" fill="none"/>
<path d="M102.10 507.9V512.1 M131.55 507.9V512.1 M152.44 507.9V512.1 M168.65 507.9V512.1 M181.89 507.9V512.1 M193.08 507.9V512.1 M202.78 507.9V512.1 M211.34 507.9V512.1 M269.33 507.9V512.1 M298.78 507.9V512.1 M319.67 507.9V512.1 M335.88 507.9V512.1 M349.12 507.9V512.1 M360.31 507.9V512.1 M370.01 507.9V512.1 M378.57 507.9V512.1 M436.56 507.9V512.1 M466.01 507.9V512.1 M486.90 507.9V512.1 M503.11 507.9V512.1 M516.35 507.9V512.1 M527.54 507.9V512.1 M537.24 507.9V512.1 M545.80 507.9V512.1" stroke="#000" stroke-width="1.25" fill="none"/>
<g opacity="0.999">
<text transform="translate(203.82 33.90) scale(1.0849 1)" font-size="26.23">Magnitude Spectrum</text>
<text transform="translate(259.09 572.80) scale(1.0026 1)" font-size="22.60">Frequency(Hz)</text>
<text transform="translate(31.9 357.68) rotate(-90) scale(1.0373 1)" font-size="22.60">Magnitude(dB)</text>
<rect x="45.6" y="49.17" width="13.8" height="1.65"/>
<text transform="translate(86.33 57.00) scale(1.0372 1)" font-size="22.40" text-anchor="end">10</text>
<rect x="45.6" y="106.89" width="13.8" height="1.65"/>
<text transform="translate(86.33 114.72) scale(1.0372 1)" font-size="22.40" text-anchor="end">15</text>
<rect x="45.6" y="164.61" width="13.8" height="1.65"/>
<text transform="translate(86.33 172.43) scale(1.0372 1)" font-size="22.40" text-anchor="end">20</text>
<rect x="45.6" y="222.32" width="13.8" height="1.65"/>
<text transform="translate(86.33 230.14) scale(1.0372 1)" font-size="22.40" text-anchor="end">25</text>
<rect x="45.6" y="280.04" width="13.8" height="1.65"/>
<text transform="translate(86.33 287.86) scale(1.0372 1)" font-size="22.40" text-anchor="end">30</text>
<rect x="45.6" y="337.75" width="13.8" height="1.65"/>
<text transform="translate(86.33 345.57) scale(1.0372 1)" font-size="22.40" text-anchor="end">35</text>
<rect x="45.6" y="395.46" width="13.8" height="1.65"/>
<text transform="translate(86.33 403.29) scale(1.0372 1)" font-size="22.40" text-anchor="end">40</text>
<rect x="45.6" y="453.18" width="13.8" height="1.65"/>
<text transform="translate(86.33 461.00) scale(1.0372 1)" font-size="22.40" text-anchor="end">45</text>
<text transform="translate(202.17 542.60) scale(1.0236 1)" font-size="22.40">10</text>
<text transform="translate(236.75 534.9) scale(0.86 1)" font-size="16.70" text-anchor="end">2</text>
<text transform="translate(369.17 542.60) scale(1.0236 1)" font-size="22.40">10</text>
<text transform="translate(403.55 534.9) scale(0.86 1)" font-size="16.70" text-anchor="end">3</text>
<text transform="translate(536.47 542.60) scale(1.0236 1)" font-size="22.40">10</text>
<text transform="translate(570.45 534.9) scale(0.86 1)" font-size="16.70" text-anchor="end">4</text>
<rect x="302.1" y="56.1" width="254.7" height="66.5" rx="4.2" ry="4.2" fill="#fff" fill-opacity="0.8" stroke="#cccccc" stroke-opacity="1" stroke-width="1.67"/>
<path d="M310 72.9H351.7" stroke="#1f77b4" stroke-width="4.17" stroke-linecap="square"/>
<path d="M310 103.8H351.7" stroke="#ff7f0e" stroke-opacity="0.7" stroke-width="4.17" stroke-linecap="square"/>
<text transform="translate(368.04 80.80) scale(1.0262 1)" font-size="22.60">Pred. (smoothed)</text>
<text transform="translate(367.94 111.90) scale(1.0233 1)" font-size="22.60">GT (smoothed)</text>
</g>
</svg>
</body></html>
